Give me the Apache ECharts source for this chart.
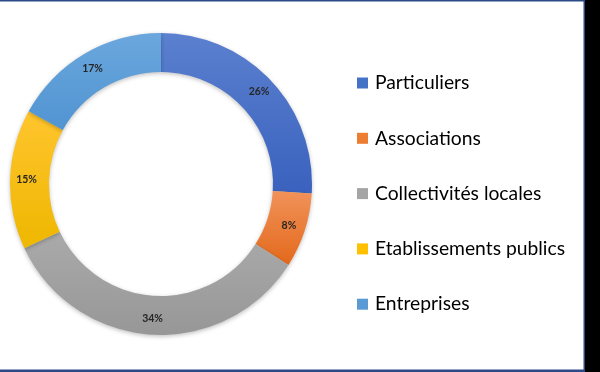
<!DOCTYPE html>
<html>
<head>
<meta charset="utf-8">
<script src="https://cdn.jsdelivr.net/npm/echarts@6/dist/echarts.min.js"></script>
<style>
html,body{margin:0;padding:0;background:#fff;}
#c{width:600px;height:372px;}
</style>
</head>
<body>
<div id="c"></div>
<script>
const categories = ['Particuliers', 'Associations', 'Collectivités locales', 'Etablissements publics', 'Entreprises'];
const values = [26, 8, 34, 15, 17];
const labels = ['26%', '8%', '34%', '15%', '17%'];
const colorTop = ['#5b80cf', '#f1925a', '#aaaaaa', '#ffc52e', '#6ba7dd'];
const colorBottom = ['#3a62be', '#e3691b', '#979797', '#eeb700', '#5094d2'];
const legendColors = ['#4472c4', '#ed7d31', '#a5a5a5', '#ffc000', '#5b9bd5'];

const chart = echarts.init(document.getElementById('c'), null, {renderer: 'canvas'});
const data = categories.map((name, i) => ({
  name: name,
  value: values[i],
  label: {formatter: labels[i]},
  itemStyle: {
    color: new echarts.graphic.LinearGradient(0, 0, 0, 1, [
      {offset: 0, color: colorTop[i]},
      {offset: 1, color: colorBottom[i]}
    ])
  }
}));

chart.setOption({
  backgroundColor: '#ffffff',
  animation: false,
  legend: {
    orient: 'vertical',
    left: 357,
    top: 72,
    padding: 0,
    itemWidth: 11,
    itemHeight: 11,
    itemGap: 33.3,
    icon: 'rect',
    data: categories.map((n, i) => ({name: n, itemStyle: {color: legendColors[i]}})),
    textStyle: {
      fontFamily: 'Lato',
      fontSize: 19.3,
      lineHeight: 22,
      color: '#000000',
      padding: [0, 0, 0, 2]
    }
  },
  series: [{
    type: 'pie',
    center: [161, 184],
    radius: [112, 151],
    startAngle: 90,
    clockwise: true,
    silent: true,
    itemStyle: {
      shadowBlur: 4,
      shadowColor: 'rgba(0,0,0,0.25)',
      shadowOffsetY: 1.5
    },
    label: {
      show: true,
      position: 'inside',
      fontFamily: 'Lato',
      fontWeight: 'bold',
      fontSize: 10.5,
      color: '#262626'
    },
    labelLine: {show: false},
    data: data
  }],
  graphic: [
    {type: 'rect', shape: {x: 585, y: 0, width: 15, height: 372}, style: {fill: '#000000'}, z: 100},
    {type: 'rect', shape: {x: 0, y: 0, width: 585, height: 1.5}, style: {fill: '#2c4a86'}, z: 100},
    {type: 'rect', shape: {x: 0, y: 369.5, width: 585, height: 2.5}, style: {fill: '#2c4a86'}, z: 100},
    {type: 'rect', shape: {x: 583.5, y: 0, width: 1.5, height: 372}, style: {fill: '#2c4a86'}, z: 100}
  ]
});
</script>
</body>
</html>
